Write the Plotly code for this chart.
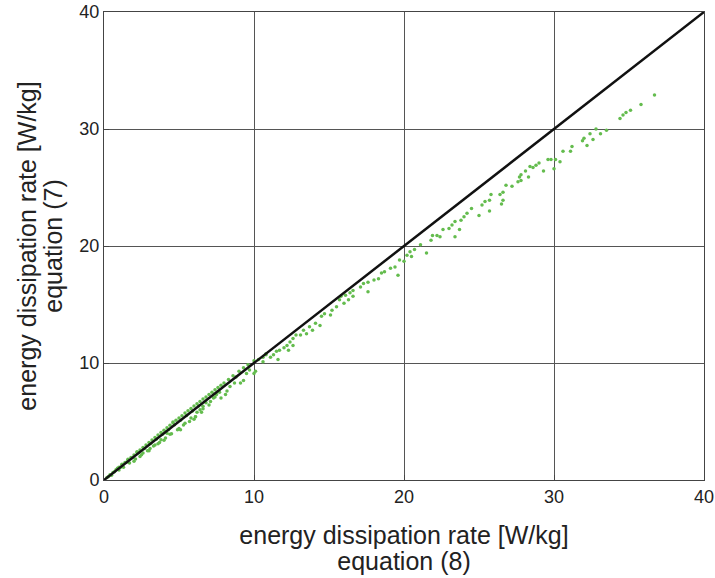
import plotly.graph_objects as go

# reference (identity) line
line_x = [0, 40]
line_y = [0, 40]

# scatter data: eq (8) on x, eq (7) on y
eq8 = [
    0.2, 0.3, 0.4, 0.5, 0.6, 0.7, 0.8, 1.0, 1.0, 1.1, 1.2, 1.3, 1.4, 1.5, 1.6, 1.7, 1.8, 1.9,
    2.0, 2.0, 2.1, 2.2, 2.3, 2.4, 2.4, 2.5, 2.6, 2.7, 2.8, 2.9, 3.0, 3.0, 3.07, 3.1, 3.2, 3.3,
    3.4, 3.5, 3.6, 3.6, 3.7, 3.8, 3.9, 4.0, 4.0, 4.1, 4.2, 4.2, 4.3, 4.4, 4.5, 4.6, 4.7, 4.8,
    4.9, 5.0, 5.0, 5.1, 5.1, 5.2, 5.3, 5.4, 5.5, 5.6, 5.7, 5.8, 5.9, 6.0, 6.0, 6.1, 6.1, 6.2,
    6.2, 6.3, 6.4, 6.4, 6.5, 6.6, 6.6, 6.8, 6.8, 7.0, 7.1, 7.2, 7.3, 7.4, 7.5, 7.6, 7.7, 7.8,
    8.0, 8.1, 8.3, 8.4, 8.6, 8.7, 8.8, 9.0, 9.1, 9.3, 9.3, 9.5, 9.6, 9.7, 10.0, 10.0, 10.1,
    10.3, 10.6, 10.6, 10.8, 10.8, 11.1, 11.3, 11.5, 11.6, 11.7, 12.0, 12.2, 12.3, 12.4, 12.6,
    12.6, 12.8, 13.1, 13.3, 13.5, 13.7, 13.9, 14.1, 14.4, 14.5, 14.7, 15.1, 15.2, 15.5, 15.7,
    15.8, 16.0, 16.1, 16.3, 16.4, 16.6, 16.6, 17.1, 17.3, 17.6, 17.6, 18.0, 18.3, 18.5, 18.7,
    19.1, 19.4, 19.6, 19.7, 20.0, 20.2, 20.4, 20.5, 20.7, 21.1, 21.5, 21.8, 21.9, 22.2, 22.4,
    22.6, 23.0, 23.2, 23.4, 23.4, 23.7, 23.8, 24.0, 24.2, 24.5, 25.0, 25.2, 25.4, 25.7, 25.7,
    25.8, 26.4, 26.5, 26.6, 26.6, 26.8, 27.2, 27.6, 27.7, 27.8, 27.8, 28.1, 28.3, 28.4, 28.6,
    28.8, 29.0, 29.3, 29.6, 29.8, 30.0, 30.1, 30.4, 30.6, 31.1, 31.2, 31.9, 32.0, 32.2, 32.4,
    32.6, 32.8, 33.1, 33.5, 34.4, 34.6, 34.8, 35.1, 35.8, 36.7,
    # extra points in the dense low range
    0.9, 1.2, 1.6, 2.2, 2.6, 3.4, 3.8, 4.4, 4.6, 5.4, 5.8, 6.6, 7.0, 7.4, 7.8, 8.2,
]
eq7 = [
    0.22, 0.3, 0.44, 0.4, 0.65, 0.71, 0.87, 1.08, 0.85, 1.1, 1.3, 1.1, 1.5, 1.52, 1.72, 1.45, 1.93, 1.9,
    2.14, 1.6, 1.8, 2.35, 2.32, 2.57, 2.0, 2.15, 2.78, 2.7, 3.0, 2.5, 3.2, 2.5, 2.7, 3.12, 3.42, 2.9,
    3.63, 3.5, 3.84, 3.1, 3.2, 4.05, 3.92, 4.26, 3.4, 3.6, 4.47, 4.0, 4.3, 4.68, 3.95, 4.9, 4.72, 5.1,
    4.3, 5.3, 4.4, 5.1, 4.3, 5.5, 4.7, 5.72, 5.52, 5.92, 5.0, 6.12, 5.9, 6.33, 5.2, 5.4, 5.4, 6.52,
    5.8, 6.32, 6.72, 6.0, 5.8, 6.92, 6.3, 7.1, 6.6, 7.3, 6.7, 7.5, 7.0, 7.72, 7.3, 7.9, 7.5, 8.1,
    8.3, 7.3, 8.6, 8.0, 8.9, 8.3, 8.8, 9.3, 8.3, 9.6, 8.5, 9.1, 9.85, 9.4, 10.2, 9.1, 9.3,
    10.3, 10.1, 10.5, 10.8, 10.7, 10.5, 10.7, 11.0, 10.3, 11.1, 11.3, 11.5, 11.1, 11.8, 12.1,
    11.5, 12.4, 12.4, 12.8, 12.5, 13.1, 12.8, 13.4, 13.2, 14.0, 14.2, 14.1, 14.5, 14.8, 15.4,
    15.7, 15.1, 15.8, 15.4, 16.0, 15.7, 16.2, 16.5, 16.8, 16.9, 16.1, 17.1, 17.2, 17.7, 17.8,
    18.1, 18.2, 17.5, 18.8, 18.7, 19.2, 19.5, 19.1, 19.7, 20.1, 19.4, 20.5, 20.9, 20.9, 20.8,
    21.4, 21.5, 21.8, 22.1, 20.8, 21.4, 22.2, 22.5, 22.8, 23.2, 22.6, 23.5, 23.8, 23.9, 23.0,
    24.4, 24.4, 23.6, 24.6, 23.9, 25.2, 25.1, 25.5, 25.9, 26.1, 25.6, 26.4, 25.9, 26.8, 26.7,
    26.9, 27.1, 26.4, 27.4, 27.4, 26.6, 27.4, 27.2, 28.1, 28.1, 28.5, 29.0, 29.2, 28.6, 29.6,
    29.1, 30.0, 29.6, 29.9, 30.9, 31.2, 31.4, 31.6, 32.1, 32.9,
    1.0, 1.35, 1.78, 2.42, 2.3, 3.0, 3.45, 3.9, 4.95, 4.85, 5.3, 6.1, 6.4, 7.1, 7.0, 7.6,
]

x_ticks = [0, 10, 20, 30, 40]
y_ticks = [0, 10, 20, 30, 40]

x_title_lines = ["energy dissipation rate [W/kg]", "equation (8)"]
y_title_lines = ["energy dissipation rate [W/kg]", "equation (7)"]


def big(lines):
    return "<br>".join('<span style="font-size:25px">%s</span>' % s for s in lines)


fig = go.Figure()
fig.add_trace(go.Scatter(
    x=eq8, y=eq7, mode="markers",
    marker=dict(size=3.5, color="rgb(100,188,78)", line=dict(width=0)),
    showlegend=False, hoverinfo="skip",
))
fig.add_trace(go.Scatter(
    x=line_x, y=line_y, mode="lines",
    line=dict(color="#111111", width=2.5),
    showlegend=False, hoverinfo="skip",
))

axis_common = dict(
    range=[0, 40], showgrid=True, gridcolor="#555555", gridwidth=1,
    zeroline=False, showline=True, linecolor="#444444", linewidth=1, mirror=True,
    ticks="inside", ticklen=5, tickcolor="#444444", automargin=False,
    tickfont=dict(family="Liberation Sans, Arial, sans-serif", size=18, color="#222222"),
)

fig.update_layout(
    width=715, height=578,
    margin=dict(l=104, r=11, t=12, b=98),
    paper_bgcolor="white", plot_bgcolor="white",
    font=dict(family="Liberation Sans, Arial, sans-serif", color="#222222"),
    xaxis=dict(
        **axis_common, tickvals=x_ticks, ticktext=[str(v) for v in x_ticks],
        title=dict(text=big(x_title_lines), font=dict(size=20), standoff=24),
    ),
    yaxis=dict(
        **axis_common, tickvals=y_ticks, ticktext=[str(v) for v in y_ticks],
        title=dict(text=big(y_title_lines), font=dict(size=20), standoff=11),
    ),
)

# remove the default page margin so the figure fills the window exactly
fig.write_html(
    "out.html",
    config={"displayModeBar": False},
    post_script="document.body.style.margin='0';document.body.style.overflow='hidden';",
)
